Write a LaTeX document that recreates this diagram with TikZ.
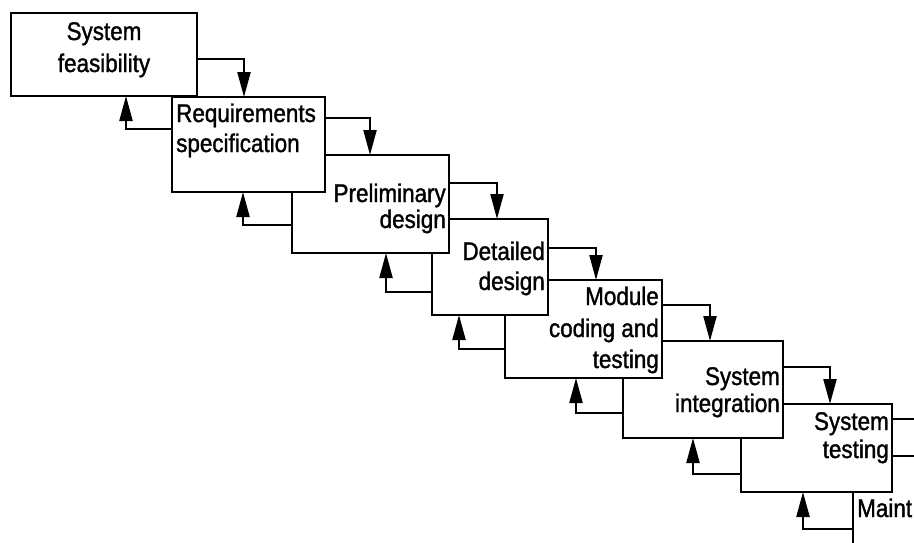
\documentclass[tikz,border=0pt]{standalone}
\usepackage{fontspec}
\setmainfont{Liberation Sans}[FakeStretch=0.88,FakeBold=1.3]
\usetikzlibrary{arrows.meta}
\begin{document}
\begin{tikzpicture}[x=1pt,y=-1pt,
  box/.style={draw, line width=2.4pt, fill=white, inner sep=0pt, outer sep=0pt, anchor=north west},
  lbl/.style={inner sep=0pt, font=\fontsize{25.5}{30}\selectfont},
  arr/.style={line width=2.2pt, -{Triangle[length=25pt,width=13pt]}}]
\useasboundingbox (0,0) rectangle (914,542);
\clip (0,0) rectangle (914,542);
% boxes, back to front
\node[box, minimum width=200pt, minimum height=150pt] (b8) at (853,456) {};
\node[box, minimum width=151pt, minimum height=88pt]  (b7) at (741,404) {};
\node[box, minimum width=160pt, minimum height=97pt]  (b6) at (623,341) {};
\node[box, minimum width=157pt, minimum height=98pt]  (b5) at (505,280) {};
\node[box, minimum width=116pt, minimum height=96pt]  (b4) at (432,219) {};
\node[box, minimum width=157pt, minimum height=98pt]  (b3) at (292,155) {};
\node[box, minimum width=153pt, minimum height=95pt]  (b2) at (172,97) {};
\node[box, minimum width=186pt, minimum height=83pt]  (b1) at (11,13) {};
% labels
\node[lbl, anchor=base] (t1a) at (104,40) {System};
\node[lbl, anchor=base] (t1b) at (104,72) {feasibility};
\node[lbl, anchor=base west] (t2a) at (176,122) {Requirements};
\node[lbl, anchor=base west] (t2b) at (176,152) {specification};
\node[lbl, anchor=base east] (t3a) at (446,202) {Preliminary};
\node[lbl, anchor=base east] (t3b) at (446,228) {design};
\node[lbl, anchor=base east] (t4a) at (545,260) {Detailed};
\node[lbl, anchor=base east] (t4b) at (545,290) {design};
\node[lbl, anchor=base east] (t5a) at (659,305) {Module};
\node[lbl, anchor=base east] (t5b) at (659,337) {coding and};
\node[lbl, anchor=base east] (t5c) at (659,368) {testing};
\node[lbl, anchor=base east] (t6a) at (780,385) {System};
\node[lbl, anchor=base east] (t6b) at (780,412) {integration};
\node[lbl, anchor=base east] (t7a) at (889,430) {System};
\node[lbl, anchor=base east] (t7b) at (889,458) {testing};
\node[lbl, anchor=base west] (t8a) at (857,517) {Maint};
% forward arrows
\draw[arr] (b1.north east |- 0,59)  -| (b2.north west -| 244,0);
\draw[arr] (b2.north east |- 0,118) -| (b3.north west -| 370,0);
\draw[arr] (b3.north east |- 0,183) -| (b4.north west -| 497,0);
\draw[arr] (b4.north east |- 0,248) -| (b5.north west -| 596,0);
\draw[arr] (b5.north east |- 0,305) -| (b6.north west -| 710,0);
\draw[arr] (b6.north east |- 0,367) -| (b7.north west -| 830,0);
\draw[line width=2.2pt] (b7.north east |- 0,419) -- (b8.north east |- 0,419);
% feedback arrows
\draw[arr] (b2.north west |- 0,129) -| (b1.south west -| 126,0);
\draw[arr] (b3.north west |- 0,225) -| (b2.south west -| 243,0);
\draw[arr] (b4.north west |- 0,292) -| (b3.south west -| 386,0);
\draw[arr] (b5.north west |- 0,349) -| (b4.south west -| 459,0);
\draw[arr] (b6.north west |- 0,413) -| (b5.south west -| 576,0);
\draw[arr] (b7.north west |- 0,474) -| (b6.south west -| 693,0);
\draw[arr] (b8.north west |- 0,529) -| (b7.south west -| 803,0);
\end{tikzpicture}
\end{document}
